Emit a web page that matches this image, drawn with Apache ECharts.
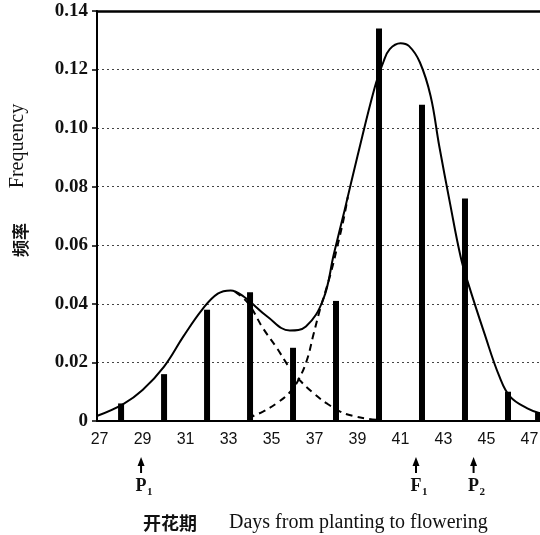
<!DOCTYPE html>
<html>
<head>
<meta charset="UTF-8">
<title>开花期频率分布</title>
<script type="text/javascript" src="https://cdn.jsdelivr.net/npm/echarts@6/dist/echarts.min.js"></script>
<style>body{margin:0;background:#fff;}</style>
</head>
<body>
	<div id="main" style="width: 540px; height: 535px;"></div>

	<script type="text/javascript">
	// 柱：各开花天数的频率
	var barDays = [28, 30, 32, 34, 36, 38, 40, 42, 44, 46, 47.4];
	var barFreq = [0.006, 0.016, 0.038, 0.044, 0.025, 0.041, 0.134, 0.108, 0.076, 0.010, 0.003];

	// 实线：总拟合曲线
	var fitDays = [26.9, 28.1, 29.0, 30.0, 30.9, 31.8, 32.5, 33.1, 33.7, 34.8, 35.85, 36.6, 37.4, 37.9, 38.4,
		39.0, 39.8, 40.2, 40.5, 41.0, 41.4, 41.9, 42.4, 42.8, 43.3, 43.8, 44.15, 44.9, 45.6, 46.1, 46.9, 47.5];
	var fitFreq = [0.0018, 0.0058, 0.0106, 0.0186, 0.0289, 0.0383, 0.0435, 0.0446, 0.0425, 0.0357, 0.0309, 0.0323, 0.0414, 0.057, 0.072,
		0.0905, 0.1139, 0.1225, 0.127, 0.129, 0.128, 0.1225, 0.111, 0.094, 0.0745, 0.056, 0.047, 0.030, 0.0152, 0.0083, 0.0043, 0.0026];

	// 虚线：左侧分量 (P1)
	var leftDays = [33.3, 33.9, 34.6, 35.25, 35.85, 36.3, 36.95, 37.55, 38.2, 38.8, 39.45, 40.0];
	var leftFreq = [0.0442, 0.0403, 0.0317, 0.0249, 0.018, 0.014, 0.0095, 0.0061, 0.0032, 0.0017, 0.0008, 0.0003];

	// 虚线：右侧分量 (F1)
	var rightDays = [33.9, 34.6, 35.25, 35.85, 36.25, 36.65, 36.95, 37.25, 37.5, 37.8, 38.05, 38.35, 38.55];
	var rightFreq = [0.001, 0.0032, 0.0061, 0.0098, 0.014, 0.0209, 0.0295, 0.038, 0.044, 0.0517, 0.0593, 0.0688, 0.0765];

	// x轴刻度标签
	var xTicks = [27, 29, 31, 33, 35, 37, 39, 41, 43, 45, 47];

	// 箭头标注 P1 F1 P2
	var annDays = [28.93, 41.72, 44.4];
	var annNames = ['P', 'F', 'P'];
	var annSubs = ['1', '1', '2'];

	function pairs(xs, ys) {
		var out = [];
		for (var i = 0; i < xs.length; i++) {
			out.push([xs[i], ys[i]]);
		}
		return out;
	}

	var chart = echarts.init(document.getElementById('main'));
	var serif = '"Liberation Serif", "DejaVu Serif", serif';
	var cjk = '"Noto Sans CJK SC", sans-serif';

	var option = {
		animation: false,
		backgroundColor: '#fff',
		grid: { left: 97, right: 0, top: 11, bottom: 114, outerBoundsMode: 'none' },
		xAxis: [{
			type: 'value',
			min: 26.88,
			max: 47.49,
			axisLine: { lineStyle: { color: '#000', width: 2 } },
			axisTick: { show: false },
			splitLine: { show: false },
			axisLabel: {
				customValues: xTicks,
				margin: 11,
				color: '#111',
				fontSize: 16,
				fontFamily: '"Liberation Sans", sans-serif'
			}
		}, {
			type: 'value',
			position: 'top',
			min: 26.88,
			max: 47.49,
			axisLine: { lineStyle: { color: '#000', width: 2.5 } },
			axisTick: { show: false },
			axisLabel: { show: false },
			splitLine: { show: false }
		}],
		yAxis: {
			type: 'value',
			min: 0,
			max: 0.14,
			interval: 0.02,
			axisLine: { show: true, lineStyle: { color: '#000', width: 2 } },
			axisTick: { show: true, length: 5, lineStyle: { color: '#000', width: 1.5 } },
			splitLine: { show: true, lineStyle: { color: '#444', width: 1, type: [2, 3] } },
			axisLabel: {
				margin: 9,
				color: '#111',
				fontSize: 19,
				fontWeight: 'bold',
				fontFamily: serif,
				formatter: function (v) { return v === 0 ? '0' : v.toFixed(2); }
			}
		},
		series: [{
			type: 'bar',
			barWidth: 6,
			itemStyle: { color: '#000' },
			data: pairs(barDays, barFreq)
		}, {
			type: 'line',
			smooth: 0.4,
			symbol: 'none',
			lineStyle: { color: '#000', width: 2 },
			data: pairs(fitDays, fitFreq)
		}, {
			type: 'line',
			smooth: 0.4,
			symbol: 'none',
			lineStyle: { color: '#000', width: 2, type: [7, 5] },
			data: pairs(leftDays, leftFreq)
		}, {
			type: 'line',
			smooth: 0.4,
			symbol: 'none',
			lineStyle: { color: '#000', width: 2, type: [7, 5] },
			data: pairs(rightDays, rightFreq)
		}]
	};
	chart.setOption(option);

	// 轴标题和箭头标注
	var graphics = [{
		type: 'text', x: 18, y: 146, rotation: Math.PI / 2,
		style: { text: 'Frequency', fill: '#111', font: '20px ' + serif, textAlign: 'center', textVerticalAlign: 'middle' }
	}, {
		type: 'text', x: 21, y: 240, rotation: Math.PI / 2,
		style: { text: '频率', fill: '#111', font: 'bold 17px ' + cjk, textAlign: 'center', textVerticalAlign: 'middle' }
	}, {
		type: 'text', x: 170, y: 523,
		style: { text: '开花期', fill: '#111', font: 'bold 18px ' + cjk, textAlign: 'center', textVerticalAlign: 'middle' }
	}, {
		type: 'text', x: 229, y: 523,
		style: { text: 'Days from planting to flowering', fill: '#111', font: '20px ' + serif, textAlign: 'left', textVerticalAlign: 'middle' }
	}];
	for (var i = 0; i < annDays.length; i++) {
		var px = chart.convertToPixel({ xAxisIndex: 0 }, annDays[i]);
		graphics.push({
			type: 'polygon',
			shape: { points: [[px - 3.5, 466], [px, 457], [px + 3.5, 466]] },
			style: { fill: '#000' }
		});
		graphics.push({
			type: 'rect',
			shape: { x: px - 1, y: 464, width: 2, height: 9 },
			style: { fill: '#000' }
		});
		graphics.push({
			type: 'text', x: px, y: 486,
			style: { text: annNames[i], fill: '#111', font: 'bold 18px ' + serif, textAlign: 'center', textVerticalAlign: 'middle' }
		});
		graphics.push({
			type: 'text', x: px + 6, y: 492,
			style: { text: annSubs[i], fill: '#111', font: 'bold 11px ' + serif, textAlign: 'left', textVerticalAlign: 'middle' }
		});
	}
	chart.setOption({ graphic: graphics });
	</script>
</body>
</html>
